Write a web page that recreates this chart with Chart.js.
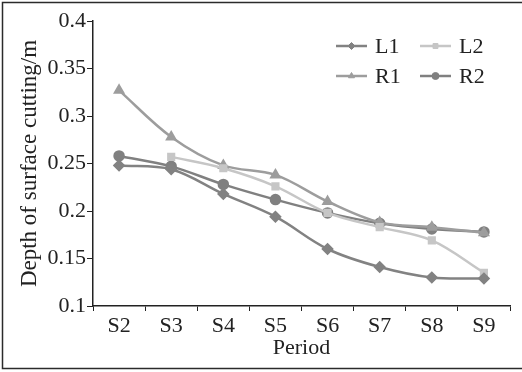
<!DOCTYPE html>
<html>
<head>
<meta charset="utf-8">
<script src="https://cdn.jsdelivr.net/npm/chart.js@4.4.0/dist/chart.umd.min.js"></script>
<style>
  html, body { margin: 0; padding: 0; background: #fff; }
  #wrap { width: 522px; height: 372px; position: relative; }
</style>
</head>
<body>
<div id="wrap"><canvas id="depthChart"></canvas></div>
<script>
// Chart data
const periods = ['S2', 'S3', 'S4', 'S5', 'S6', 'S7', 'S8', 'S9'];
const l1 = [0.248, 0.244, 0.218, 0.194, 0.160, 0.141, 0.130, 0.129];
const l2 = [null, 0.257, 0.245, 0.226, 0.198, 0.183, 0.169, 0.135];
const r1 = [0.327, 0.278, 0.248, 0.238, 0.210, 0.188, 0.183, 0.177];
const r2 = [0.258, 0.247, 0.228, 0.212, 0.198, 0.187, 0.181, 0.178];
const yTicks = [0.1, 0.15, 0.2, 0.25, 0.3, 0.35, 0.4];

const serif = "'Liberation Serif', 'Times New Roman', serif";

function series(label, data, color, shape) {
    return {
        label: label,
        data: data,
        borderColor: color,
        backgroundColor: color,
        pointBackgroundColor: color,
        pointBorderColor: color,
        pointStyle: shape,
        pointRadius: shape === 'rect' ? 4 : 4.5,
        borderWidth: 2.5,
        tension: 0.35,
        spanGaps: false
    };
}

// legend in two columns inside the plot, like the original
const gridLegend = {
    id: 'gridLegend',
    afterDatasetsDraw(chart) {
        const ctx = chart.ctx;
        const cols = [336, 420];
        const rows = [46, 76];
        ctx.save();
        chart.data.datasets.forEach((ds, i) => {
            const x = cols[i % 2];
            const y = rows[Math.floor(i / 2)];
            ctx.strokeStyle = ds.borderColor;
            ctx.fillStyle = ds.borderColor;
            ctx.lineWidth = 2.5;
            ctx.beginPath();
            ctx.moveTo(x, y);
            ctx.lineTo(x + 31, y);
            ctx.stroke();
            ctx.lineWidth = 1;
            Chart.helpers.drawPoint(ctx, {
                pointStyle: ds.pointStyle, radius: 3.5, borderWidth: 1
            }, x + 15.5, y);
            ctx.fillStyle = '#222';
            ctx.font = '22px ' + serif;
            ctx.textBaseline = 'middle';
            ctx.fillText(ds.label, x + 39, y + 1);
        });
        ctx.restore();
    }
};

// thin dark frame round the picture
const frame = {
    id: 'frame',
    afterDraw(chart) {
        const ctx = chart.ctx;
        ctx.save();
        ctx.strokeStyle = '#2b2b2b';
        ctx.lineWidth = 1.5;
        ctx.strokeRect(2.5, 2.5, 600, 366);
        ctx.restore();
    }
};

new Chart(document.getElementById('depthChart'), {
    type: 'line',
    data: {
        labels: periods,
        datasets: [
            series('L1', l1, '#828282', 'rectRot'),
            series('L2', l2, '#c6c6c6', 'rect'),
            series('R1', r1, '#9d9d9d', 'triangle'),
            series('R2', r2, '#808080', 'circle')
        ]
    },
    options: {
        responsive: true,
        maintainAspectRatio: false,
        animation: false,
        layout: { padding: { top: 21, right: 12, left: 0, bottom: 11 } },
        plugins: {
            legend: { display: false },
            tooltip: { enabled: false }
        },
        scales: {
            x: {
                offset: true,
                grid: {
                    offset: true,
                    drawOnChartArea: false,
                    drawTicks: true,
                    tickLength: 5,
                    color: '#222'
                },
                border: { color: '#222', width: 1.5 },
                ticks: {
                    color: '#222',
                    padding: 2,
                    font: { family: serif, size: 22 }
                },
                title: {
                    display: true,
                    text: 'Period',
                    color: '#222',
                    padding: { top: 0, bottom: 0 },
                    font: { family: serif, size: 22 }
                },
                afterFit(scale) { scale.height = 55; }
            },
            y: {
                min: 0.1,
                max: 0.4,
                afterBuildTicks(scale) {
                    scale.ticks = yTicks.map(v => ({ value: v }));
                },
                grid: {
                    drawOnChartArea: false,
                    drawTicks: true,
                    tickLength: 6,
                    color: '#222'
                },
                border: { color: '#222', width: 1.5 },
                ticks: {
                    color: '#222',
                    padding: 1,
                    font: { family: serif, size: 22 },
                    callback: v => String(Math.round(v * 100) / 100)
                },
                title: {
                    display: true,
                    text: 'Depth of surface cutting/m',
                    color: '#222',
                    padding: { top: 16, bottom: 0 },
                    font: { family: serif, size: 23 }
                },
                afterFit(scale) { scale.width = 93; }
            }
        }
    },
    plugins: [gridLegend, frame]
});
</script>
</body>
</html>
